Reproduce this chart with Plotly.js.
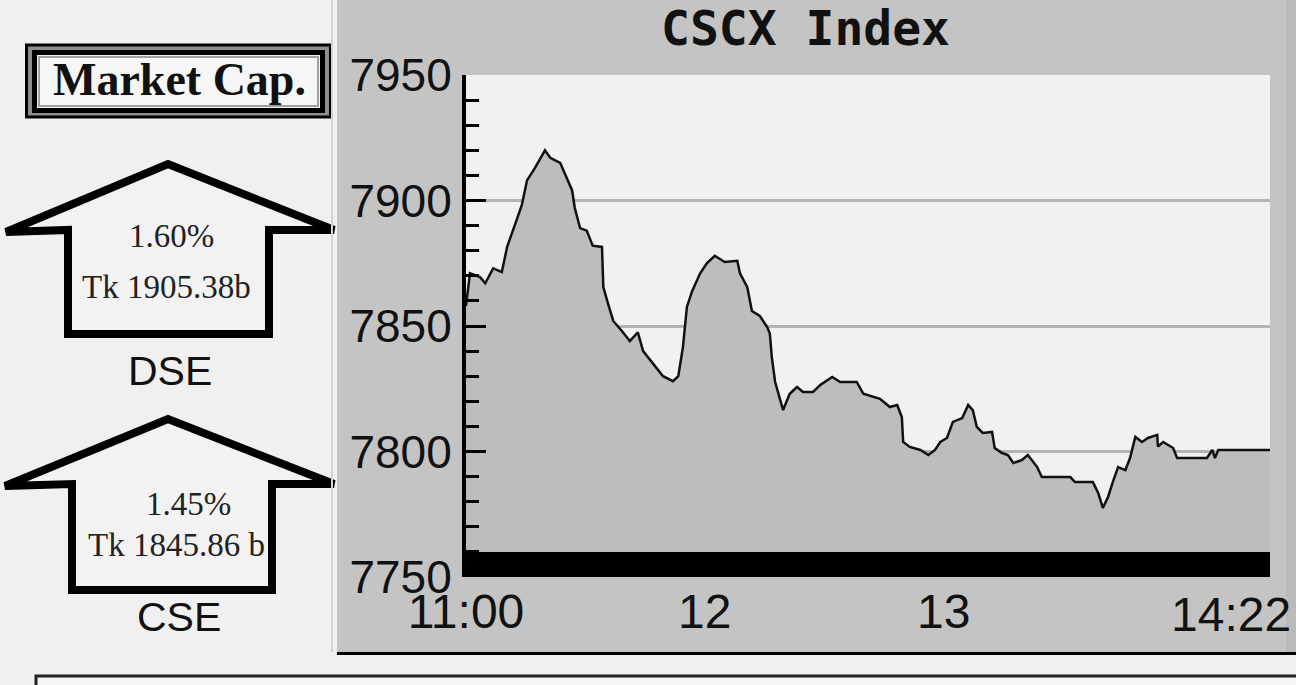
<!DOCTYPE html>
<html>
<head>
<meta charset="utf-8">
<script src="https://cdn.plot.ly/plotly-3.0.1.min.js"></script>
<style>html,body{margin:0;padding:0;background:#f0f0f0;}#chart{width:1296px;height:685px;}</style>
</head>
<body>
<div id="chart"></div>
<script>
// ---- data ----
const chartTitle = 'CSCX Index';
const sessionDate = '2024-01-01';
const times = [
  '11:00:00','11:01:00','11:03:30','11:04:50','11:06:50','11:09:00','11:10:20','11:11:50','11:14:00','11:15:20',
  '11:17:20','11:19:50','11:21:10','11:23:40','11:25:20','11:26:40','11:27:20','11:28:40','11:30:20','11:31:50',
  '11:34:10','11:34:30','11:35:40','11:37:00','11:39:10','11:41:10','11:43:10','11:44:30','11:47:00','11:49:30',
  '11:52:00','11:53:20','11:54:30','11:55:30','11:56:50','11:58:50','12:00:30','12:02:30','12:05:00','12:08:10',
  '12:08:50','12:10:40','12:11:50','12:13:50','12:15:40','12:16:20','12:16:50','12:17:40','12:19:40','12:21:20',
  '12:23:10','12:24:40','12:27:10','12:29:00','12:32:00','12:34:00','12:38:10','12:39:50','12:44:00','12:46:30',
  '12:48:20','12:49:30','12:49:50','12:51:30','12:54:10','12:56:10','12:57:50','12:59:10','13:00:50','13:02:20',
  '13:04:40','13:06:10','13:07:20','13:08:20','13:09:50','13:12:10','13:12:50','13:14:40','13:16:10','13:17:30',
  '13:19:40','13:21:10','13:23:30','13:24:40','13:31:50','13:33:00','13:37:30','13:38:50','13:40:00','13:41:20',
  '13:42:30','13:43:50','13:45:40','13:46:50','13:48:10','13:49:50','13:51:20','13:53:40','13:53:50','13:55:10',
  '13:57:40','13:58:40','14:06:10','14:07:30','14:08:10','14:09:00','14:22:00'
];
const indexValues = [
  7858,7871,7869.5,7867,7873,7871.5,7881.5,7888,7898,7908,
  7913,7920,7917,7915,7909,7904,7897,7889,7888,7882,
  7881.5,7865.5,7859,7852,7848,7844,7847.5,7840,7835,7830,
  7828,7830,7841.6,7857.6,7864,7871,7875,7878,7875.5,7876,
  7871,7865.5,7856,7854,7849.6,7847,7837.6,7827.7,7816.5,7823,
  7825.7,7823.7,7823.7,7826.5,7829.7,7827.7,7827.7,7823,7821,7817.7,
  7818.5,7813.7,7803.8,7801.8,7800.6,7798.6,7800.6,7803.8,7805.4,7811.8,
  7813.3,7818.5,7816.5,7809.8,7807.4,7807.8,7801.4,7799.4,7798.6,7795.4,
  7796.6,7798.6,7793.8,7789.8,7789.8,7787.8,7787.8,7783.5,7777.5,7782,
  7787.8,7793.8,7792.6,7797.4,7805.8,7803.8,7805.4,7806.6,7802,7803.8,
  7801.4,7797.4,7797.4,7800.6,7797.4,7800.6,7800.6
];
const baseBandTimes = ['11:00:00','14:22:00'];
const baseBandValues = [7760, 7760];
const yRange = [7750, 7950];
const xTickTimes = ['11:00:00','12:00:00','13:00:00'];
const xTickText = ['11:00','12','13'];
const lastTickTime = '14:22:00';
const lastTickText = '14:22';
const marketCapLabel = 'Market Cap.';
const exchanges = ['DSE','CSE'];
const changePct = ['1.60%','1.45%'];
const capValues = ['Tk 1905.38b','Tk 1845.86 b'];

// ---- layout helpers (pixel -> paper) ----
const W = 1296, H = 685;
const px = v => v / W;
const py = v => 1 - v / H;
const pathFrom = pts => 'M' + pts.map(p => px(p[0]).toFixed(5) + ',' + py(p[1]).toFixed(5)).join(' L') + ' Z';
const toDate = t => sessionDate + ' ' + t;

function rect(x0, y0, x1, y1, fill, lineColor, lineWidth) {
  return {type:'rect', xref:'paper', yref:'paper', layer:'below',
    x0:px(x0), x1:px(x1), y0:py(y1), y1:py(y0),
    fillcolor:fill, line:{color:lineColor||'rgba(0,0,0,0)', width:lineWidth||0}};
}
function arrowShape(tipY, baseY, bottomY, leftX, rightX, shaftL, shaftR) {
  return {type:'path', xref:'paper', yref:'paper', layer:'below',
    path: pathFrom([[leftX, baseY+2],[168, tipY],[rightX, baseY],[shaftR, baseY],[shaftR, bottomY],[shaftL, bottomY],[shaftL, baseY]]),
    fillcolor:'#f2f2f2', line:{color:'#000', width:8}};
}

const shapes = [
  // market cap box
  rect(26.5, 45, 330.5, 117, '#8e8e8e', '#000', 3),
  rect(34.5, 52.5, 322.5, 110.5, '#f5f5f5', '#000', 5),
  rect(39, 57, 318, 106, '#f6f6f6', '#a0a0a0', 2),
  // arrows
  arrowShape(164, 230, 334, 6, 334, 68, 269),
  arrowShape(419, 484, 590, 5, 334, 72, 272),
  // separator
  {type:'line', xref:'paper', yref:'paper', layer:'below', x0:px(332), x1:px(332), y0:py(0), y1:py(652), line:{color:'#d2d2d2', width:2}},
  // chart panel
  rect(337, 0, 1296, 652, '#c4c4c4'),
  rect(1286, 0, 1296, 652, '#bababa'),
  rect(466, 75, 1270, 577, '#f1f1f1'),
  {type:'line', xref:'paper', yref:'paper', layer:'below', x0:px(337), x1:px(1296), y0:py(653.5), y1:py(653.5), line:{color:'#000', width:3}},
  // bottom box
  rect(36, 676, 1310, 730, '#f5f5f5', '#222', 3)
];

const serif = 'Liberation Serif, Times New Roman, serif';
const sans = 'Liberation Sans, Arial, sans-serif';
const annotations = [
  {text:chartTitle, xref:'paper', yref:'paper', x:px(805), y:py(28), xanchor:'center', yanchor:'middle', showarrow:false,
   font:{family:'DejaVu Sans Mono, monospace', size:48, color:'#111', weight:'bold'}},
  {text:marketCapLabel, xref:'paper', yref:'paper', x:px(179), y:py(80), xanchor:'center', yanchor:'middle', showarrow:false,
   font:{family:serif, size:46, color:'#111', weight:'bold'}},
  {text:lastTickText, xref:'x', yref:'paper', x:toDate(lastTickTime), y:py(614), xanchor:'right', xshift:23, yanchor:'middle', showarrow:false,
   font:{family:sans, size:48, color:'#111'}}
];
const pctY = [236, 504], capY = [287, 545], nameY = [371, 617];
const pctX = [171, 188], capX = [166, 176], nameX = [170, 179];
exchanges.forEach((ex, i) => {
  annotations.push({text:changePct[i], xref:'paper', yref:'paper', x:px(pctX[i]), y:py(pctY[i]), xanchor:'center', yanchor:'middle', showarrow:false,
    font:{family:serif, size:33, color:'#222'}});
  annotations.push({text:capValues[i], xref:'paper', yref:'paper', x:px(capX[i]), y:py(capY[i]), xanchor:'center', yanchor:'middle', showarrow:false,
    font:{family:serif, size:33, color:'#222'}});
  annotations.push({text:ex, xref:'paper', yref:'paper', x:px(nameX[i]), y:py(nameY[i]), xanchor:'center', yanchor:'middle', showarrow:false,
    font:{family:sans, size:41, color:'#111'}});
});

const traces = [
  {x:times.map(toDate), y:indexValues, type:'scatter', mode:'lines', fill:'tozeroy',
   fillcolor:'#bdbdbd', line:{color:'#111', width:2.5}, hoverinfo:'skip'},
  {x:baseBandTimes.map(toDate), y:baseBandValues, type:'scatter', mode:'lines', fill:'tozeroy',
   fillcolor:'#000', line:{color:'#000', width:0}, hoverinfo:'skip'}
];

const layout = {
  width:W, height:H, margin:{l:0, r:0, t:0, b:0},
  paper_bgcolor:'#f0f0f0', plot_bgcolor:'rgba(0,0,0,0)',
  showlegend:false,
  xaxis:{type:'date', domain:[px(466), px(1270)], range:[toDate(times[0]), toDate(lastTickTime)],
    tickmode:'array', tickvals:xTickTimes.map(toDate), ticktext:xTickText, ticks:'',
    showgrid:false, zeroline:false, showline:false, ticklabelstandoff:2,
    tickfont:{family:sans, size:48, color:'#111'}},
  yaxis:{domain:[py(577), py(75)], range:yRange, dtick:50, tick0:7750,
    ticks:'inside', ticklen:20, tickwidth:3, tickcolor:'#000',
    showline:true, linecolor:'#000', linewidth:4,
    showgrid:true, gridcolor:'#b4b4b4', gridwidth:3, zeroline:false,
    ticklabelstandoff:1,
    tickfont:{family:sans, size:46, color:'#111'},
    minor:{dtick:10, ticks:'inside', ticklen:13, tickwidth:3, tickcolor:'#000', showgrid:false}},
  shapes:shapes, annotations:annotations
};

Plotly.newPlot('chart', traces, layout, {displayModeBar:false, staticPlot:true});
</script>
</body>
</html>
